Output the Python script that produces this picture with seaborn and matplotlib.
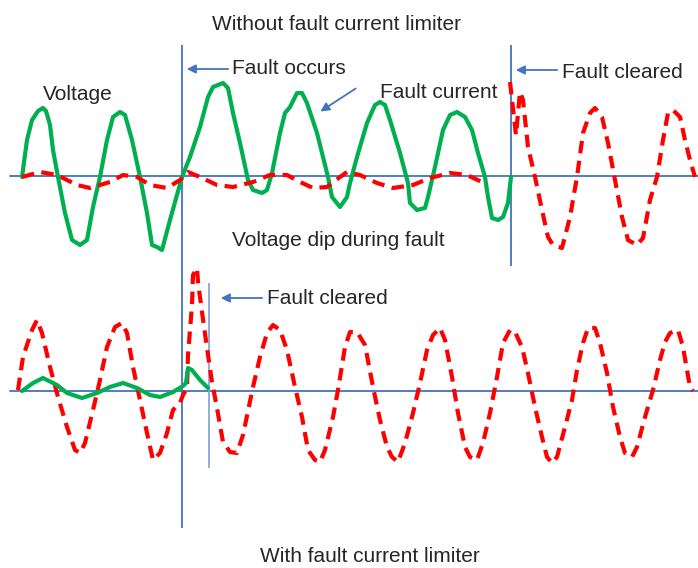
import matplotlib
matplotlib.use("Agg")
import matplotlib.pyplot as plt
import seaborn as sns
import pandas as pd

# ── data (time, amplitude in drawing units) ──
# top panel: without fault current limiter
top_current_t = [22, 27, 32, 38, 43, 46, 50, 53, 58, 65, 72, 80, 87, 93, 100, 107, 113, 120, 125,
                 132, 140, 147, 152, 157, 162, 170, 182, 190, 200, 208, 213, 223, 228, 233, 240,
                 248, 253, 262, 267, 272, 280, 285, 290, 297, 302, 307, 317, 328, 332, 340, 347,
                 350, 357, 367, 375, 380, 385, 390, 400, 408, 410, 417, 425, 428, 435, 443, 450,
                 457, 465, 472, 478, 485, 488, 492, 498, 503, 508, 511]
top_current_v = [177, 140, 120, 111, 108, 111, 125, 150, 177, 213, 240, 245, 240, 207, 177, 140, 117, 112, 115,
                 140, 177, 213, 245, 247, 250, 220, 177, 157, 127, 97, 87, 83, 88, 113, 143,
                 180, 190, 193, 190, 173, 133, 113, 107, 93, 93, 103, 133, 177, 197, 207, 197,
                 183, 157, 123, 105, 102, 105, 120, 153, 183, 203, 210, 208, 197, 167, 130, 115,
                 112, 117, 130, 153, 177, 197, 218, 220, 217, 203, 177]

top_dip_t = [22, 40, 57, 77, 90, 110, 123, 137, 150, 167, 180, 188, 200, 217, 233, 253, 270, 287,
             300, 313, 327, 340, 347, 360, 377, 393, 413, 430, 450, 467, 482]
top_dip_v = [177, 172, 175, 185, 188, 182, 175, 177, 185, 188, 180, 172, 177, 185, 187, 182, 175, 175,
             182, 188, 187, 177, 172, 175, 183, 188, 185, 178, 173, 175, 182]

top_after_t = [510, 516, 520, 523, 528, 535, 542, 548, 553, 562, 570, 577, 583, 590, 595, 602, 608,
               615, 622, 628, 637, 643, 650, 657, 663, 668, 673, 680, 685, 690, 695]
top_after_v = [82, 135, 92, 100, 147, 177, 210, 237, 245, 248, 217, 177, 133, 113, 108, 117, 143,
               180, 217, 240, 245, 238, 200, 177, 140, 113, 110, 117, 140, 160, 177]

# bottom panel: with fault current limiter
bot_current_t = [22, 33, 43, 57, 67, 82, 97, 110, 123, 137, 150, 160, 173, 183, 186, 188, 192, 200, 208]
bot_current_v = [391, 383, 378, 385, 393, 398, 393, 387, 383, 388, 395, 397, 392, 386, 383, 368, 370, 380, 388]

bot_voltage_t = [18, 23, 32, 37, 42, 50, 58, 67, 75, 80, 85, 93, 100, 107, 115, 122, 127, 133, 140,
                 147, 153, 160, 167, 173, 180, 183, 187, 188, 192, 193, 197, 198, 202, 207, 212,
                 217, 223, 230, 237, 243, 253, 260, 267, 273, 280, 287, 295, 302, 308, 315, 320,
                 325, 333, 338, 345, 350, 357, 365, 373, 380, 387, 392, 398, 405, 413, 420, 427,
                 433, 440, 445, 452, 458, 465, 470, 477, 483, 490, 497, 503, 510, 515, 522, 528,
                 535, 542, 547, 552, 557, 565, 572, 577, 583, 588, 595, 600, 607, 613, 620, 625,
                 632, 637, 645, 653, 660, 665, 670, 678, 683, 687, 690, 693]
bot_voltage_v = [390, 357, 330, 320, 333, 367, 397, 427, 450, 453, 443, 410, 380, 347, 327, 323, 333, 367, 400,
                 433, 460, 453, 433, 410, 403, 395, 388, 355, 305, 275, 268, 282, 312, 348, 382,
                 408, 442, 452, 453, 435, 387, 357, 333, 325, 330, 350, 387, 417, 450, 460, 462,
                 450, 417, 390, 347, 332, 332, 345, 387, 420, 447, 457, 462, 443, 413, 383, 350,
                 335, 328, 340, 377, 413, 447, 457, 460, 443, 413, 377, 343, 330, 332, 347, 373,
                 407, 437, 457, 463, 457, 427, 400, 370, 343, 328, 328, 343, 373, 407, 437, 453,
                 457, 447, 417, 390, 360, 342, 333, 330, 347, 370, 387, 391]

labels = ["Without fault current limiter", "Fault occurs", "Voltage", "Fault current",
          "Fault cleared", "Voltage dip during fault", "Fault cleared", "With fault current limiter"]

GREEN = "#00B050"
RED = "#FF0000"
BLUE = "#4472C4"

sns.set_theme(style="white")
plt.rcParams['font.family'] = ['Liberation Sans', 'DejaVu Sans']

fig = plt.figure(figsize=(6.98, 5.68), dpi=100)
ax = fig.add_axes([0, 0, 1, 1])
ax.set_xlim(0, 698)
ax.set_ylim(568, 0)
ax.axis('off')

# axes / fault markers
ax.axhline(176, xmin=10 / 698, xmax=1, color=BLUE, lw=1.3)
ax.axhline(391, xmin=10 / 698, xmax=1, color=BLUE, lw=1.3)
ax.vlines(182, 45, 528, color=BLUE, lw=1.3)
ax.vlines(511, 45, 266, color=BLUE, lw=1.3)
ax.vlines(209, 283, 468, color="#7FA0D8", lw=1.2)

dash = (0, (3, 1.8))
curves = [
    (top_current_t, top_current_v, GREEN, '-'),
    (top_dip_t, top_dip_v, RED, dash),
    (top_after_t, top_after_v, RED, dash),
    (bot_voltage_t, bot_voltage_v, RED, dash),
    (bot_current_t, bot_current_v, GREEN, '-'),
]
for t, v, c, ls in curves:
    df = pd.DataFrame({'t': t, 'v': v})
    sns.lineplot(data=df, x='t', y='v', sort=False, estimator=None, ax=ax,
                 color=c, lw=3, linestyle=ls, solid_joinstyle='round',
                 solid_capstyle='round')

# arrows
arrow = dict(arrowstyle='-|>', color=BLUE, lw=1.3, mutation_scale=13)
ax.annotate('', xy=(184, 69), xytext=(231, 69), arrowprops=arrow)
ax.annotate('', xy=(318, 113), xytext=(358, 87), arrowprops=arrow)
ax.annotate('', xy=(513, 70), xytext=(560, 70), arrowprops=arrow)
ax.annotate('', xy=(218, 298), xytext=(265, 298), arrowprops=arrow)

# labels
fs = 15
ax.text(336, 25, labels[0], ha='center', va='center', fontsize=fs)
ax.text(232, 69, labels[1], ha='left', va='center', fontsize=fs)
ax.text(43, 95, labels[2], ha='left', va='center', fontsize=fs)
ax.text(380, 92, labels[3], ha='left', va='center', fontsize=fs)
ax.text(562, 72, labels[4], ha='left', va='center', fontsize=fs)
ax.text(232, 240, labels[5], ha='left', va='center', fontsize=fs)
ax.text(267, 299, labels[6], ha='left', va='center', fontsize=fs)
ax.text(370, 557, labels[7], ha='center', va='center', fontsize=fs)

fig.savefig('out.png', dpi=100)
